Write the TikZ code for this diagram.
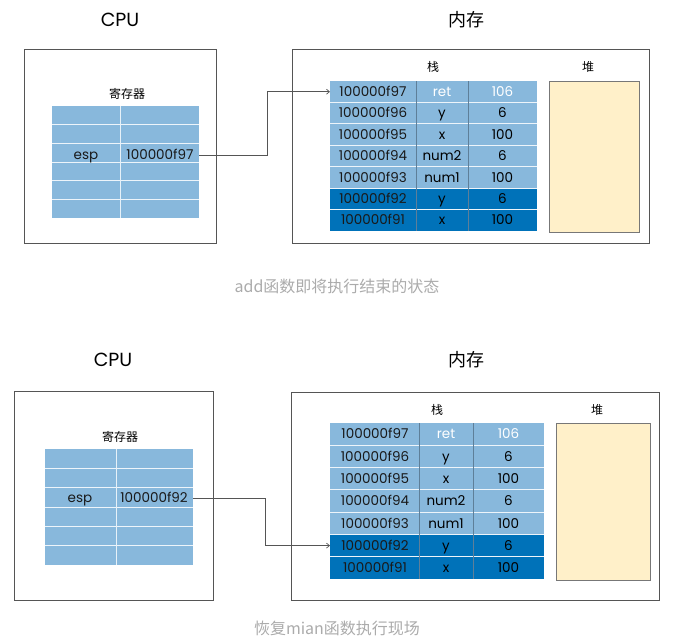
\documentclass[tikz,border=0pt]{standalone}
\usepackage{fontspec}
\setmainfont{Poppins}
\newfontfamily\cjk{Noto Sans CJK SC}
\usetikzlibrary{arrows.meta, calc}

\definecolor{reglight}{HTML}{88B8DC}
\definecolor{stackdark}{HTML}{0072B9}
\definecolor{heapfill}{HTML}{FFF0C9}
\definecolor{framegray}{HTML}{555555}
\definecolor{captiongray}{HTML}{ABABAB}
\definecolor{divgray}{HTML}{5E7F99}

\tikzset{
  frame/.style={draw=framegray, line width=0.9pt},
  rowcell/.style={inner sep=0pt, outer sep=0pt, anchor=center},
  celltext/.style={inner sep=0pt, text height=9.4pt, text depth=0pt, font=\fontsize{13.5}{15}\selectfont, text=black!90},
  headtext/.style={inner sep=0pt, font=\cjk\fontsize{12}{14}\selectfont},
  titletext/.style={inner sep=0pt, font=\fontsize{19}{21}\selectfont},
  captext/.style={inner sep=0pt, font=\cjk\fontsize{16}{18}\selectfont, text=captiongray},
  rowline/.style={draw=white!85!reglight, line width=0.8pt},
  colline/.style={draw=divgray, line width=0.5pt},
  pointer/.style={draw=framegray, line width=0.7pt, -{Straight Barb[length=3pt, width=5pt]}}
}

\begin{document}
\begin{tikzpicture}[x=1pt, y=-1pt]
  \useasboundingbox (0,0) rectangle (676,642);

  % ---------- state before add returns ----------
  \node[titletext] (cpuA) at (120,20) {CPU};
  \node[titletext, font=\cjk\fontsize{18}{20}\selectfont] (memA) at (466,20) {内存};
  \node[frame, rowcell, minimum width=192pt, minimum height=194pt] (cpuboxA) at (120,146) {};
  \node[frame, rowcell, minimum width=357pt, minimum height=194pt] (memboxA) at (470.5,146) {};
  \node[headtext] (regA) at (127,94) {寄存器};
  \node[headtext] (stackA) at (433,67) {栈};
  \node[headtext] (heapA) at (588,67) {堆};

  % register file
  \foreach \i in {1,...,6} {
    \node[rowcell, fill=reglight, minimum width=147pt, minimum height=18.67pt] (ra\i) at (125.5,{106+(\i-0.5)*18.67}) {};
  }
  \foreach \i in {1,...,5} \draw[rowline] (ra\i.south west) -- (ra\i.south east);
  \draw[draw=white!80!reglight, line width=0.4pt] (120,106) -- (120,218);
  \node[celltext] (espA) at (86,155) {esp};
  \node[celltext] (espvalA) at (160,155) {100000f97};

  % stack
  \foreach \i/\addr/\var/\val/\bg/\fg in {
      1/100000f97/ret/106/reglight/white, 2/100000f96/y/6/reglight/black,
      3/100000f95/x/100/reglight/black, 4/100000f94/num2/6/reglight/black,
      5/100000f93/num1/100/reglight/black, 6/100000f92/y/6/stackdark/black,
      7/100000f91/x/100/stackdark/black} {
    \node[rowcell, fill=\bg, minimum width=207pt, minimum height=21.43pt] (sa\i) at (433.5,{81+(\i-0.5)*21.43}) {};
    \node[celltext] (sa\i addr) at (373,{81+(\i-0.5)*21.43}) {\addr};
    \node[celltext, text=\fg] (sa\i var) at (442,{81+(\i-0.5)*21.43}) {\var};
    \node[celltext, text=\fg] (sa\i val) at (502.5,{81+(\i-0.5)*21.43}) {\val};
  }
  \foreach \i in {1,...,6} \draw[rowline] (sa\i.south west) -- (sa\i.south east);
  \draw[colline] (416,81) -- (416,231);
  \draw[colline] (468,81) -- (468,231);

  % heap
  \node[rowcell, draw=framegray!80, line width=0.8pt, fill=heapfill, minimum width=90pt, minimum height=151pt] (hpA) at (594,156.5) {};

  \coordinate (bendA) at (267,0);
  \draw[pointer] (ra3.east |- espvalA) -- (bendA |- espvalA) -- (bendA |- sa1) -- (sa1.west);

  \node[captext] (capA) at (337,286) {add函数即将执行结束的状态};

  % ---------- state after returning to main ----------
  \node[titletext] (cpuB) at (113,360) {CPU};
  \node[titletext, font=\cjk\fontsize{18}{20}\selectfont] (memB) at (466,360) {内存};
  \node[frame, rowcell, minimum width=199pt, minimum height=209pt] (cpuboxB) at (113.5,495.5) {};
  \node[frame, rowcell, minimum width=368pt, minimum height=208pt] (memboxB) at (475,496) {};
  \node[headtext] (regB) at (120,437) {寄存器};
  \node[headtext] (stackB) at (437,410) {栈};
  \node[headtext] (heapB) at (597,410) {堆};

  % register file
  \foreach \i in {1,...,6} {
    \node[rowcell, fill=reglight, minimum width=148pt, minimum height=19.33pt] (rb\i) at (119,{449+(\i-0.5)*19.33}) {};
  }
  \foreach \i in {1,...,5} \draw[rowline] (rb\i.south west) -- (rb\i.south east);
  \draw[draw=white!80!reglight, line width=0.4pt] (116,449) -- (116,565);
  \node[celltext] (espB) at (80,498) {esp};
  \node[celltext] (espvalB) at (154,498) {100000f92};

  % stack
  \foreach \i/\addr/\var/\val/\bg/\fg in {
      1/100000f97/ret/106/reglight/white, 2/100000f96/y/6/reglight/black,
      3/100000f95/x/100/reglight/black, 4/100000f94/num2/6/reglight/black,
      5/100000f93/num1/100/reglight/black, 6/100000f92/y/6/stackdark/black,
      7/100000f91/x/100/stackdark/black} {
    \node[rowcell, fill=\bg, minimum width=214pt, minimum height=22.29pt] (sb\i) at (437,{423+(\i-0.5)*22.29}) {};
    \node[celltext] (sb\i addr) at (375,{423+(\i-0.5)*22.29}) {\addr};
    \node[celltext, text=\fg] (sb\i var) at (446,{423+(\i-0.5)*22.29}) {\var};
    \node[celltext, text=\fg] (sb\i val) at (508.5,{423+(\i-0.5)*22.29}) {\val};
  }
  \foreach \i in {1,...,6} \draw[rowline] (sb\i.south west) -- (sb\i.south east);
  \draw[colline] (419,423) -- (419,579);
  \draw[colline] (473,423) -- (473,579);

  % heap
  \node[rowcell, draw=framegray!80, line width=0.8pt, fill=heapfill, minimum width=94pt, minimum height=157pt] (hpB) at (603,501.5) {};

  \coordinate (bendB) at (265,0);
  \draw[pointer] (rb3.east |- espvalB) -- (bendB |- espvalB) -- (bendB |- sb6) -- (sb6.west);

  \node[captext] (capB) at (337,628) {恢复mian函数执行现场};
\end{tikzpicture}
\end{document}
